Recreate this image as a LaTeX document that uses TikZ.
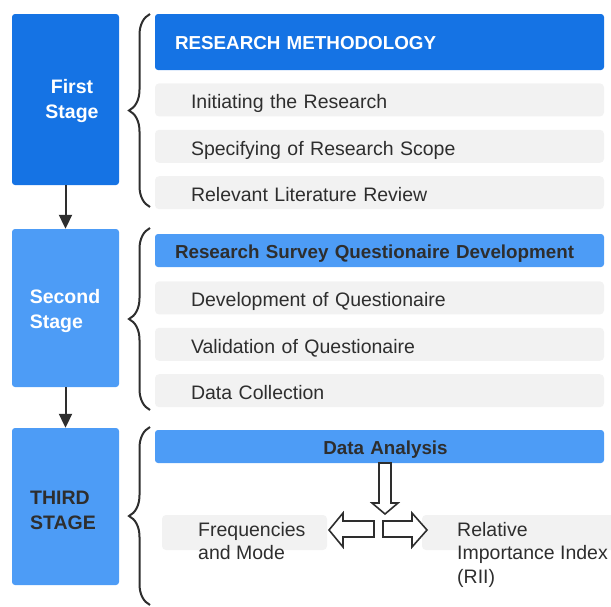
\documentclass[tikz,border=0pt]{standalone}
\usepackage{fontspec}
\setmainfont{Liberation Sans}
\usetikzlibrary{positioning,arrows.meta,decorations.pathreplacing}

\definecolor{deepblue}{HTML}{1573E4}
\definecolor{lightblue}{HTML}{4D9CF6}
\definecolor{itemgrey}{HTML}{F2F2F2}
\definecolor{inkgrey}{HTML}{2E2E2E}

\newcommand\diagfont{\fontsize{19.5}{23.5}\selectfont}
\newcommand\headfont{\fontsize{18.8}{24}\selectfont\bfseries}
\newcommand\stagefont{\fontsize{19.5}{25}\selectfont\bfseries}

\tikzset{
  stagebox/.style={fill=lightblue, rounded corners=3pt, minimum width=107pt, inner sep=0pt},
  stagelabel/.style={font=\stagefont, text=white, align=left, inner sep=0pt},
  headbox/.style={fill=lightblue, rounded corners=3pt, minimum height=33pt, inner xsep=20pt, inner ysep=0pt, text width=409pt, text height=17pt, text depth=1pt, font=\headfont, text=inkgrey, align=left},
  itembox/.style={fill=itemgrey, rounded corners=4pt, minimum height=33pt, inner xsep=36pt, inner ysep=0pt, text width=377pt, text height=20pt, text depth=2pt, font=\diagfont, text=inkgrey, align=left},
  resultbox/.style={fill=itemgrey, rounded corners=4pt, minimum height=35pt, inner sep=0pt},
  resulttext/.style={font=\diagfont, text=inkgrey, align=left, inner sep=0pt, anchor=north west},
  bracket/.style={decorate, decoration={brace, amplitude=21pt}, line width=2pt, inkgrey},
  flow/.style={-{Triangle[width=13pt,length=14pt]}, line width=2pt, inkgrey},
  hollow/.style={draw=inkgrey, line width=1.6pt, fill=white, line join=miter},
}

\begin{document}
\begin{tikzpicture}[x=1pt, y=-1pt]
\useasboundingbox (0,0) rectangle (611,606);

% stages down the left side
\node[stagebox, fill=deepblue, minimum height=171pt] (first) at (65.5,99.5) {};
\node[stagebox, minimum height=158pt] (second) at (65.5,308) {};
\node[stagebox, minimum height=157pt] (third) at (65.5,506.5) {};
\node[stagelabel, align=center] (firstlab) at (72,101) {First\\Stage};
\node[stagelabel] (secondlab) at (65,311) {Second\\Stage};
\node[stagelabel, text=inkgrey] (thirdlab) at (63,510) {THIRD\\STAGE};

\draw[flow] (first) -- (second);
\draw[flow] (second) -- (third);

% first stage
\node[headbox, fill=deepblue, text=white, minimum height=56pt, text depth=3pt] (method) at (379.5,42) {RESEARCH METHODOLOGY};
\node[itembox, below=13pt of method] (initiate) {Initiating the Research};
\node[itembox, below=13pt of initiate] (scope) {Specifying of Research Scope};
\node[itembox, below=13pt of scope] (review) {Relevant Literature Review};

% second stage
\node[headbox] (survey) at (379.5,250.5) {Research Survey Questionaire Development};
\node[itembox, below=14pt of survey] (develop) {Development of Questionaire};
\node[itembox, below=13pt of develop] (validate) {Validation of Questionaire};
\node[itembox, below=13pt of validate] (collect) {Data Collection};

% third stage
\node[headbox, align=center] (analysis) at (379.5,446.5) {\hspace*{12pt}Data Analysis};
\node[resultbox, minimum width=165pt] (freqbox) at (244.5,532.5) {};
\node[resultbox, minimum width=200pt] (riibox) at (522,532.5) {};
\node[resulttext] (freq) at (198,522) {Frequencies\\and Mode};
\node[resulttext] (rii) at (457,522) {Relative\\Importance Index\\(RII)};

% hollow block arrows
\draw[hollow] (379,463) -- (391,463) -- (391,503) -- (398,503) -- (385,514) -- (372,503) -- (379,503) -- cycle;
\draw[hollow] (374,521) -- (374,537) -- (343,537) -- (343,547) -- (329,530) -- (343,513) -- (343,521) -- cycle;
\draw[hollow] (383,521) -- (412,521) -- (412,513) -- (427,530) -- (412,547) -- (412,537) -- (383,537) -- cycle;

% braces
\draw[bracket] (150,207) -- (150,14);
\draw[bracket] (150,410) -- (150,228);
\draw[bracket] (150,605) -- (150,427);
\end{tikzpicture}
\end{document}
